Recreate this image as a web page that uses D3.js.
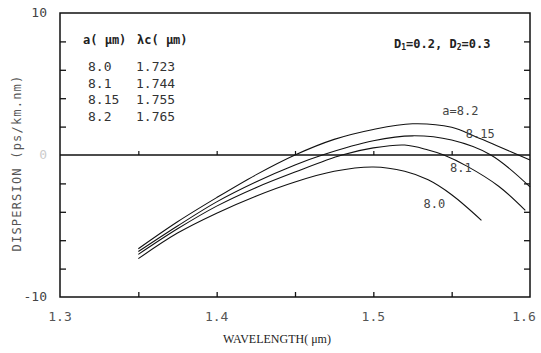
<!DOCTYPE html>
<html>
<head>
<meta charset="utf-8">
<script src="https://cdn.jsdelivr.net/npm/d3@7"></script>
<style>
  body { margin: 0; background: #fff; }
  svg { display: block; }
  text { fill: #222; }
</style>
</head>
<body>
<svg id="chart" width="541" height="353"></svg>
<script>
const WIDTH = 541;
const HEIGHT = 353;
const MARGIN = {left: 60, right: 11, top: 13, bottom: 56};

// dispersion curves, [wavelength um, ps/km.nm]
const curve_82 = [[1.35, -6.6], [1.375, -4.7], [1.40, -3.0], [1.425, -1.4], [1.45, 0], [1.475, 1.1],
	[1.50, 1.8], [1.525, 2.2], [1.55, 1.95], [1.565, 1.3], [1.58, 0.6], [1.60, -0.35]];
const curve_815 = [[1.35, -6.8], [1.375, -5.0], [1.40, -3.3], [1.425, -1.9], [1.45, -0.7], [1.4675, 0],
	[1.50, 1.0], [1.525, 1.35], [1.55, 1.05], [1.575, 0], [1.60, -2.25]];
const curve_81 = [[1.35, -7.0], [1.375, -5.2], [1.40, -3.6], [1.425, -2.3], [1.45, -1.2], [1.48, 0],
	[1.50, 0.5], [1.52, 0.7], [1.535, 0.35], [1.545, 0], [1.56, -0.8], [1.58, -2.2], [1.597, -3.9]];
const curve_80 = [[1.35, -7.3], [1.375, -5.5], [1.40, -4.1], [1.425, -2.9], [1.45, -1.9], [1.475, -1.15],
	[1.50, -0.85], [1.52, -1.15], [1.535, -1.75], [1.55, -2.8], [1.569, -4.6]];

const curves = [curve_82, curve_815, curve_81, curve_80];

// legend table
const core_radius = ['8.0', '8.1', '8.15', '8.2'];
const cutoff = ['1.723', '1.744', '1.755', '1.765'];

// curve labels: text, wavelength, dispersion
const curve_labels = [['a=8.2', 1.544, 2.8], ['8.15', 1.559, 1.2], ['8.1', 1.549, -1.2], ['8.0', 1.532, -3.7]];

const x_ticks = [1.3, 1.35, 1.4, 1.45, 1.5, 1.55, 1.6];
const x_tick_labels = [1.3, 1.4, 1.5, 1.6];
const y_ticks = [-10, -8, -6, -4, -2, 0, 2, 4, 6, 8, 10];
const y_tick_labels = [-10, 0, 10];

const svg = d3.select('#chart');

const x_scale = d3.scaleLinear()
	.domain([1.3, 1.6])
	.range([MARGIN.left, WIDTH - MARGIN.right]);

const y_scale = d3.scaleLinear()
	.domain([-10, 10])
	.range([HEIGHT - MARGIN.bottom, MARGIN.top]);

const x0 = x_scale(1.3), x1 = x_scale(1.6);
const y0 = y_scale(-10), y1 = y_scale(10);

// frame
svg.append('rect')
	.attr('x', x0).attr('y', y1)
	.attr('width', x1 - x0).attr('height', y0 - y1)
	.attr('fill', 'none')
	.attr('stroke', '#111')
	.attr('stroke-width', 1.5);

// inner ticks, left and right
const inner_y = y_ticks.filter(d => d !== 10 && d !== -10 && d !== 0);
svg.append('g')
	.attr('transform', `translate(${x0},0)`)
	.call(d3.axisRight(y_scale).tickValues(inner_y).tickSize(6).tickFormat(''))
	.call(g => g.select('.domain').remove())
	.selectAll('line').attr('stroke', '#111').attr('stroke-width', 1.3);

svg.append('g')
	.attr('transform', `translate(${x1},0)`)
	.call(d3.axisLeft(y_scale).tickValues(inner_y).tickSize(6).tickFormat(''))
	.call(g => g.select('.domain').remove())
	.selectAll('line').attr('stroke', '#111').attr('stroke-width', 1.3);

// bottom ticks
const inner_x = x_ticks.filter(d => d !== 1.3 && d !== 1.6);
svg.append('g')
	.attr('transform', `translate(0,${y0})`)
	.call(d3.axisTop(x_scale).tickValues(inner_x).tickSize(5).tickFormat(''))
	.call(g => g.select('.domain').remove())
	.selectAll('line').attr('stroke', '#111').attr('stroke-width', 1.3);

// zero line with ticks
svg.append('line')
	.attr('x1', x0).attr('x2', x1)
	.attr('y1', y_scale(0)).attr('y2', y_scale(0))
	.attr('stroke', '#111').attr('stroke-width', 1.5);

svg.append('g')
	.attr('transform', `translate(0,${y_scale(0)})`)
	.call(d3.axisTop(x_scale).tickValues(inner_x).tickSize(4).tickFormat(''))
	.call(g => g.select('.domain').remove())
	.selectAll('line').attr('stroke', '#111').attr('stroke-width', 1.2);

// tick labels
svg.selectAll('.xlab')
	.data(x_tick_labels)
	.enter()
	.append('text')
	.attr('class', 'xlab')
	.attr('x', d => x_scale(d) - (d === 1.6 ? 6 : 0))
	.attr('y', y0 + 24)
	.attr('text-anchor', 'middle')
	.attr('font-family', 'DejaVu Sans Mono, monospace')
	.attr('font-size', '13px')
	.style('fill', '#555')
	.text(d => d.toFixed(1));

svg.selectAll('.ylab')
	.data(y_tick_labels)
	.enter()
	.append('text')
	.attr('class', 'ylab')
	.attr('x', x0 - 13)
	.attr('y', d => y_scale(d) + 4)
	.attr('text-anchor', 'end')
	.attr('font-family', 'DejaVu Sans Mono, monospace')
	.attr('font-size', '13px')
	.style('fill', d => d === 0 ? '#ccc' : '#444')
	.text(d => d);

// axis titles
svg.append('text')
	.attr('x', 277)
	.attr('y', HEIGHT - 10)
	.attr('text-anchor', 'middle')
	.attr('font-family', 'Liberation Serif, serif')
	.attr('font-size', '12px')
	.text('WAVELENGTH( μm)');

svg.append('text')
	.attr('text-anchor', 'middle')
	.attr('font-family', 'DejaVu Sans Mono, monospace')
	.attr('font-size', '12px')
	.attr('letter-spacing', '1.2px')
	.style('fill', '#555')
	.attr('transform', `translate(21, 163) rotate(-90)`)
	.text('DISPERSION (ps/km.nm)');

// curves
const line = d3.line()
	.x(d => x_scale(d[0]))
	.y(d => y_scale(d[1]))
	.curve(d3.curveCatmullRom.alpha(0.5));

svg.selectAll('.curve')
	.data(curves)
	.enter()
	.append('path')
	.attr('class', 'curve')
	.attr('d', line)
	.attr('fill', 'none')
	.attr('stroke', '#111')
	.attr('stroke-width', 1.1);

svg.selectAll('.clab')
	.data(curve_labels)
	.enter()
	.append('text')
	.attr('class', 'clab')
	.attr('x', d => x_scale(d[1]))
	.attr('y', d => y_scale(d[2]))
	.attr('font-family', 'DejaVu Sans Mono, monospace')
	.attr('font-size', '12px')
	.style('fill', '#444')
	.text(d => d[0]);

// legend table
const legend = svg.append('g').attr('font-family', 'DejaVu Sans Mono, monospace').attr('font-size', '13px');

legend.append('text')
	.attr('x', 83).attr('y', 44)
	.attr('font-weight', 'bold')
	.attr('font-size', '12px')
	.text('a( μm)');

legend.append('text')
	.attr('x', 137).attr('y', 44)
	.attr('font-weight', 'bold')
	.attr('font-size', '12px')
	.text('λc( μm)');

legend.selectAll('.rad')
	.data(core_radius)
	.enter()
	.append('text')
	.attr('x', 88)
	.attr('y', (d, i) => 71 + i * 16.5)
	.style('fill', '#333')
	.text(d => d);

legend.selectAll('.cut')
	.data(cutoff)
	.enter()
	.append('text')
	.attr('x', 136)
	.attr('y', (d, i) => 71 + i * 16.5)
	.style('fill', '#333')
	.text(d => d);

// fiber parameters
const params = svg.append('text')
	.attr('x', 394).attr('y', 48)
	.attr('font-family', 'DejaVu Sans Mono, monospace')
	.attr('font-size', '12px')
	.attr('font-weight', 'bold');
params.append('tspan').text('D');
params.append('tspan').attr('font-size', '8px').attr('dy', 2).text('1');
params.append('tspan').attr('dy', -2).text('=0.2, D');
params.append('tspan').attr('font-size', '8px').attr('dy', 2).text('2');
params.append('tspan').attr('dy', -2).text('=0.3');
</script>
</body>
</html>
